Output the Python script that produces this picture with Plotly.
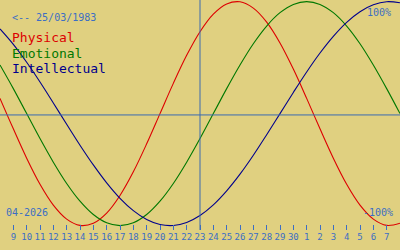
import plotly.graph_objects as go

# Day index (April days; 31.. = May 1..)
days = list(range(8, 39))
tick_days = list(range(9, 38))
tick_labels = [str(d) for d in range(9, 31)] + [str(d) for d in range(1, 8)]

physical = [13.6, -13.6, -39.8, -63.1, -81.7, -94.2, -99.8, -97.9, -88.8, -73.1,
            -52.0, -27.0, 0.0, 27.0, 52.0, 73.1, 88.8, 97.9, 99.8, 94.2,
            81.7, 63.1, 39.8, 13.6, -13.6, -39.8, -63.1, -81.7, -94.2, -99.8, -97.9]
emotional = [43.4, 22.3, 0.0, -22.3, -43.4, -62.4, -78.2, -90.1, -97.5, -100.0,
             -97.5, -90.1, -78.2, -62.4, -43.4, -22.3, 0.0, 22.3, 43.4, 62.4,
             78.2, 90.1, 97.5, 100.0, 97.5, 90.1, 78.2, 62.4, 43.4, 22.3, 0.0]
intellectual = [75.6, 61.8, 45.8, 28.2, 9.5, -9.5, -28.2, -45.8, -61.8, -75.6,
                -86.6, -94.5, -99.0, -99.9, -97.2, -91.0, -81.5, -69.0, -54.1, -37.2,
                -18.9, 0.0, 18.9, 37.2, 54.1, 69.0, 81.5, 91.0, 97.2, 99.9, 99.0]

today = 23
birth_text = "<-- 25/03/1983"
month_text = "04-2026"

BG = "#E0D080"
TXT = "#3C6EC4"
LINE = "#3A6AB0"
RED = "#DD0000"
GREEN = "#007800"
NAVY = "#00008C"

W, H, PLOT_H = 400, 250, 230
C, A = 113.6, 112.0
y_top = C / A * 100
y_bot = -(PLOT_H - C) / A * 100

fig = go.Figure()
for vals, col in [(physical, RED), (emotional, GREEN), (intellectual, NAVY)]:
    fig.add_trace(go.Scatter(x=days, y=vals, mode="lines",
                             line=dict(color=col, width=1.1, shape="spline", smoothing=1.0),
                             hoverinfo="skip", showlegend=False))

fig.add_shape(type="line", xref="x", yref="paper", x0=today, x1=today, y0=0, y1=1,
              line=dict(color=LINE, width=1))
fig.add_shape(type="line", xref="paper", yref="y", x0=0, x1=1, y0=-1.2, y1=-1.2,
              line=dict(color=LINE, width=1))

def px_x(p):
    return p / W

def px_y(p):
    return 1 - p / PLOT_H

mono = "DejaVu Sans Mono"
anns = [
    (10, 17, birth_text, TXT, 10, "left"),
    (10, 38, "Physical", RED, 13, "left"),
    (10, 53, "Emotional", GREEN, 13, "left"),
    (10, 68, "Intellectual", NAVY, 13, "left"),
    (393, 12, "100%", TXT, 10, "right"),
    (395, 212, "-100%", TXT, 10, "right"),
    (4, 212, month_text, TXT, 10, "left"),
]
for x, y, t, c, s, xa in anns:
    fig.add_annotation(x=px_x(x), y=px_y(y), xref="paper", yref="paper", text=t,
                       showarrow=False, xanchor=xa, yanchor="middle",
                       font=dict(family=mono, size=s, color=c))

fig.update_layout(
    width=W, height=H,
    margin=dict(l=0, r=0, t=0, b=H - PLOT_H, pad=0),
    paper_bgcolor=BG, plot_bgcolor=BG,
    xaxis=dict(range=[8, 38], showgrid=False, zeroline=False, showline=False,
               tickmode="array", tickvals=tick_days, ticktext=tick_labels,
               tickangle=0, ticks="inside", ticklen=5, tickwidth=1, tickcolor=TXT,
               tickfont=dict(family=mono, size=9, color=TXT), fixedrange=True),
    yaxis=dict(range=[y_bot, y_top], showgrid=False, zeroline=False, showline=False,
               showticklabels=False, fixedrange=True),
)

fig.write_html("out.html")
